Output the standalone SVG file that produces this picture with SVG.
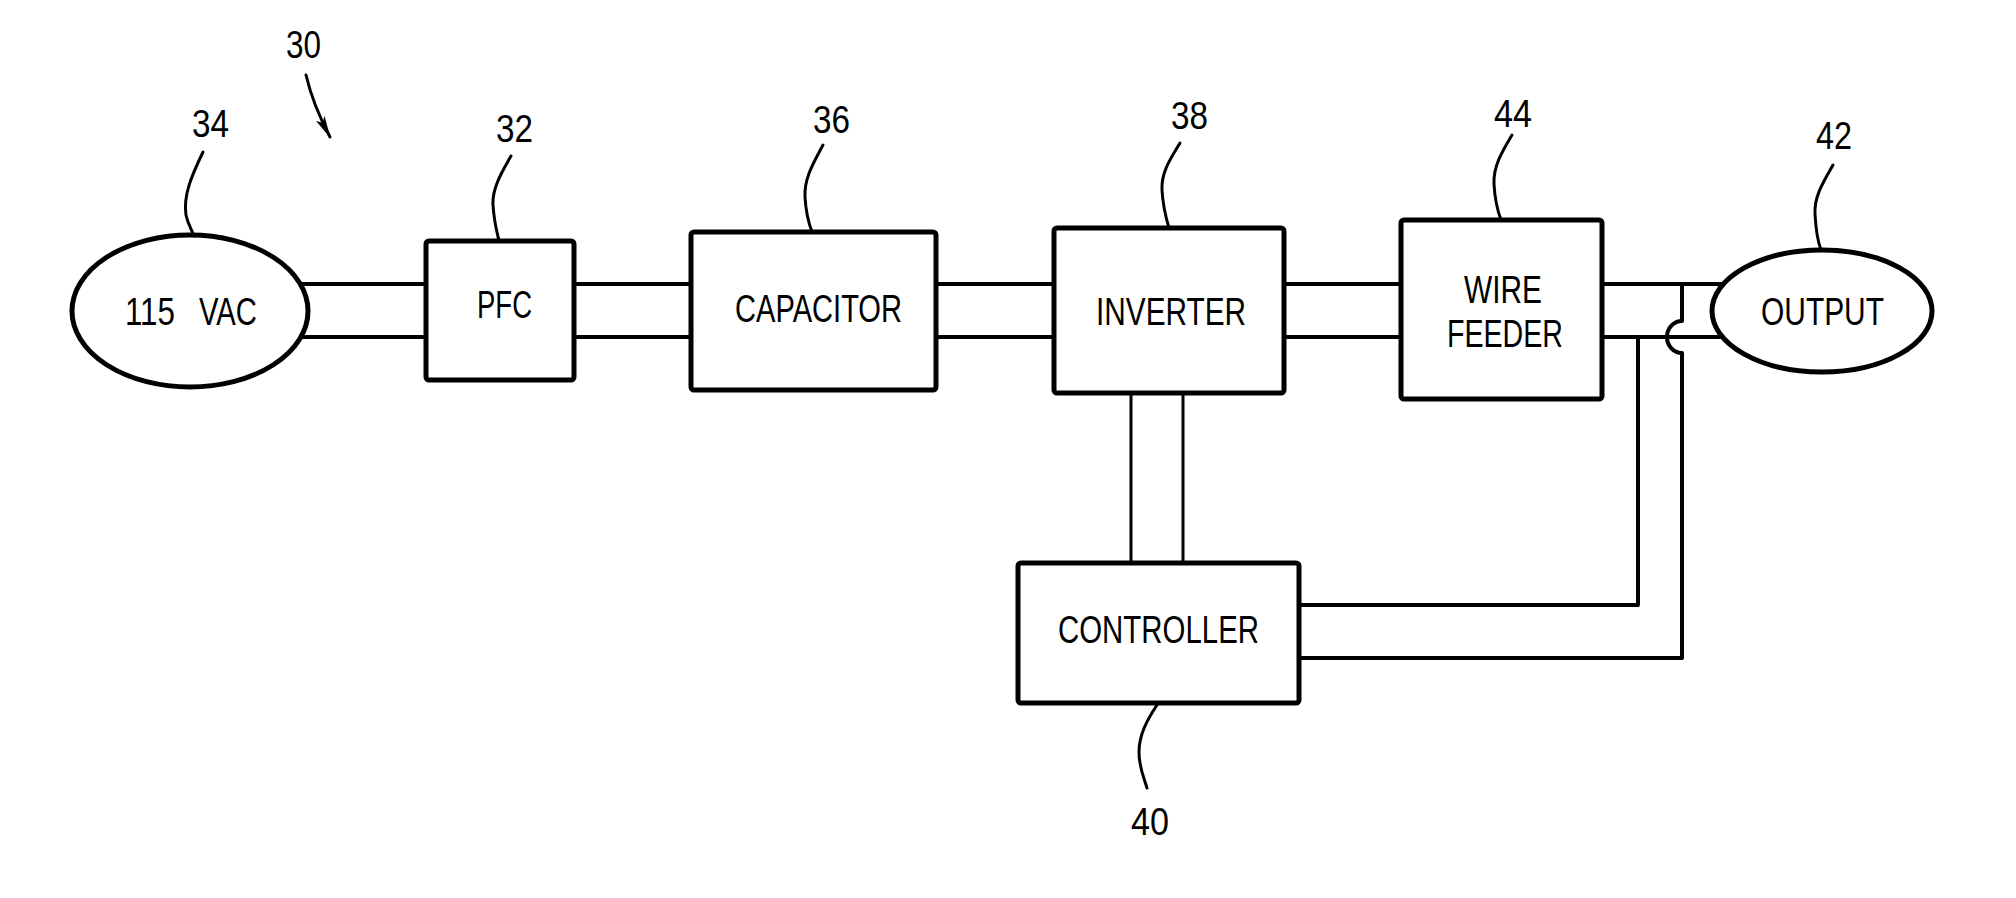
<svg xmlns="http://www.w3.org/2000/svg" width="2016" height="898" viewBox="0 0 2016 898">
<style>
.box{fill:#fff;stroke:#000;stroke-width:5;stroke-linejoin:round}
.wire{fill:none;stroke:#000;stroke-width:4;stroke-linejoin:round}
.thin{fill:none;stroke:#000;stroke-width:3}
.lead{fill:none;stroke:#000;stroke-width:3;stroke-linecap:round}
text{font-family:"Liberation Sans Narrow","Liberation Sans",Arial,sans-serif;font-size:39px;fill:#000}
</style>
<defs>
<marker id="arrow" viewBox="0 0 22 10" refX="21" refY="5" markerUnits="userSpaceOnUse" markerWidth="22" markerHeight="10" orient="auto">
<path d="M0,0 L22,5 L0,10 L5,5 z" fill="#000"/>
</marker>
</defs>
<rect width="2016" height="898" fill="#fff"/>
<g id="connectors">
<path class="wire" d="M290,284 H430 M290,337 H430"/>
<path class="wire" d="M574,284 H691 M574,337 H691"/>
<path class="wire" d="M936,284 H1054 M936,337 H1054"/>
<path class="wire" d="M1284,284 H1401 M1284,337 H1401"/>
<path class="wire" d="M1602,284 H1730 M1602,337 H1730"/>
<path class="thin" d="M1131,393 V563 M1183,393 V563"/>
<path class="wire" d="M1638,337 V605 H1299"/>
<path class="wire" d="M1682,284 V321 A15 16 0 0 0 1682,353 V658 H1299"/>
</g>
<g id="n30">
<path class="lead" d="M306,75 Q313,105 330,137" marker-end="url(#arrow)"/>
<text x="286" y="58" textLength="35" lengthAdjust="spacingAndGlyphs">30</text>
</g>
<g id="n34">
<ellipse class="box" cx="190" cy="311" rx="118" ry="76"/>
<text y="325"><tspan x="125" textLength="50" lengthAdjust="spacingAndGlyphs">115</tspan> <tspan x="199" textLength="58" lengthAdjust="spacingAndGlyphs">VAC</tspan></text>
<path class="lead" d="M203,152 C192,175 183,195 186,215 C188,225 192,230 194,236"/>
<text x="192" y="137" textLength="37" lengthAdjust="spacingAndGlyphs">34</text>
</g>
<g id="n32">
<rect class="box" x="426" y="241" width="148" height="139" rx="3"/>
<text x="477" y="318" textLength="55" lengthAdjust="spacingAndGlyphs">PFC</text>
<path class="lead" d="M511,156 C502,172 492,188 493,205 C494,222 497,232 499,241"/>
<text x="496" y="142" textLength="37" lengthAdjust="spacingAndGlyphs">32</text>
</g>
<g id="n36">
<rect class="box" x="691" y="232" width="245" height="158" rx="3"/>
<text x="735" y="322" textLength="167" lengthAdjust="spacingAndGlyphs">CAPACITOR</text>
<path class="lead" d="M823,145 C814,162 804,178 805,197 C806,215 809,224 812,232"/>
<text x="813" y="133" textLength="37" lengthAdjust="spacingAndGlyphs">36</text>
</g>
<g id="n38">
<rect class="box" x="1054" y="228" width="230" height="165" rx="3"/>
<text x="1096" y="325" textLength="150" lengthAdjust="spacingAndGlyphs">INVERTER</text>
<path class="lead" d="M1180,143 C1171,158 1161,172 1162,190 C1163,208 1166,218 1169,228"/>
<text x="1171" y="129" textLength="37" lengthAdjust="spacingAndGlyphs">38</text>
</g>
<g id="n44">
<rect class="box" x="1401" y="220" width="201" height="179" rx="3"/>
<text x="1464" y="303" textLength="78" lengthAdjust="spacingAndGlyphs">WIRE</text>
<text x="1447" y="347" textLength="116" lengthAdjust="spacingAndGlyphs">FEEDER</text>
<path class="lead" d="M1512,135 C1503,150 1493,166 1494,184 C1495,202 1498,212 1501,220"/>
<text x="1494" y="127" textLength="38" lengthAdjust="spacingAndGlyphs">44</text>
</g>
<g id="n42">
<ellipse class="box" cx="1822" cy="311" rx="110" ry="61"/>
<text x="1761" y="325" textLength="123" lengthAdjust="spacingAndGlyphs">OUTPUT</text>
<path class="lead" d="M1833,165 C1824,181 1814,196 1815,214 C1816,232 1818,242 1821,250"/>
<text x="1816" y="149" textLength="36" lengthAdjust="spacingAndGlyphs">42</text>
</g>
<g id="n40">
<rect class="box" x="1018" y="563" width="281" height="140" rx="3"/>
<text x="1058" y="643" textLength="201" lengthAdjust="spacingAndGlyphs">CONTROLLER</text>
<path class="lead" d="M1157,705 C1147,720 1139,735 1139,752 C1139,768 1144,778 1147,788"/>
<text x="1131" y="835" textLength="38" lengthAdjust="spacingAndGlyphs">40</text>
</g>
</svg>
